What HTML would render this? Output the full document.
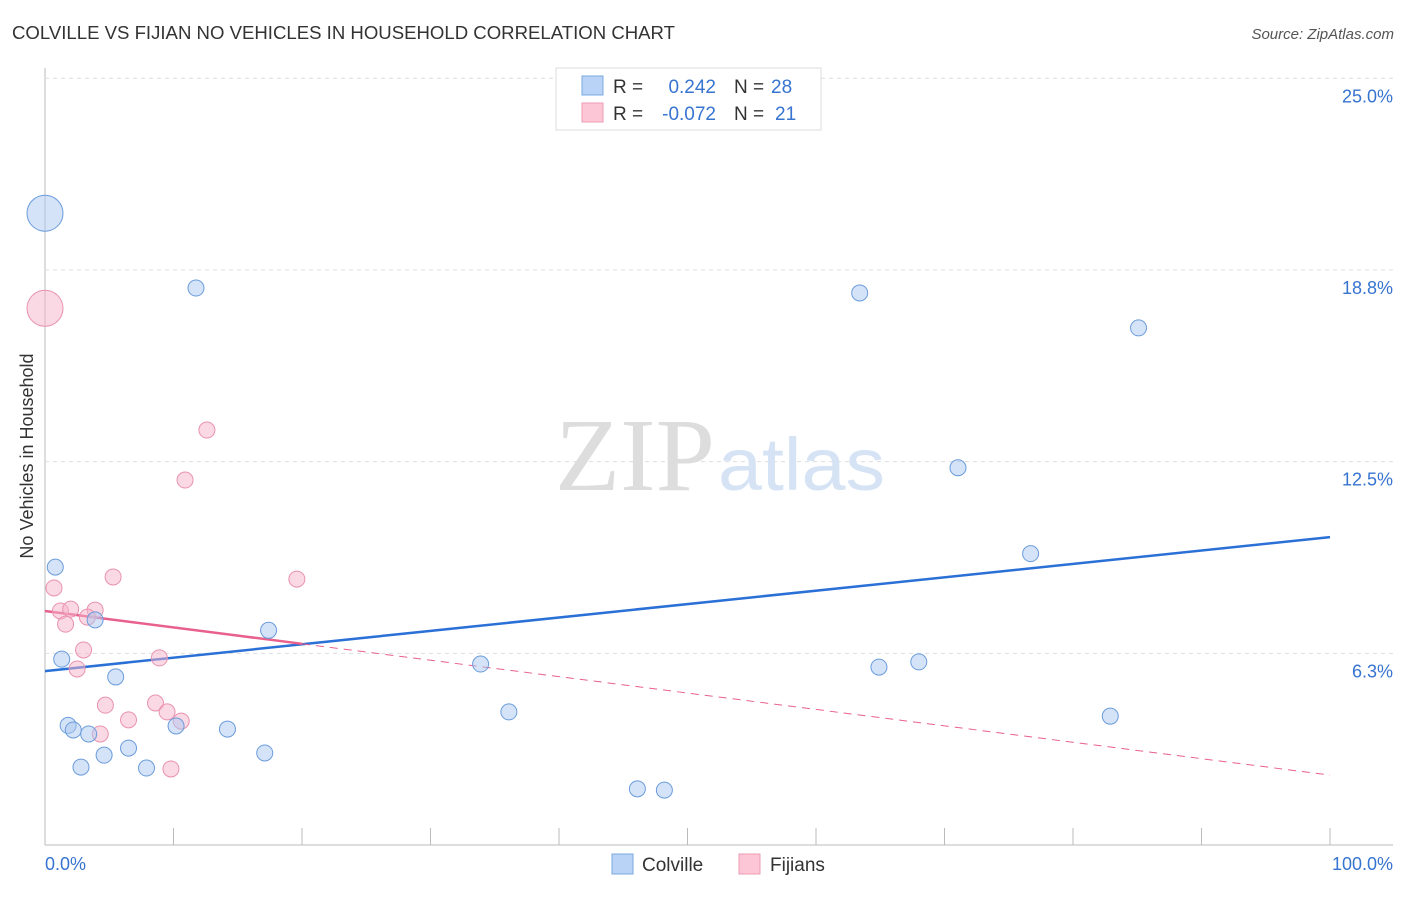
<!DOCTYPE html>
<html><head><meta charset="utf-8"><style>
body{margin:0;background:#fff;font-family:"Liberation Sans",sans-serif;}
svg text{font-family:"Liberation Sans",sans-serif;}
</style></head><body>
<svg id="chart" width="1406" height="892" xmlns="http://www.w3.org/2000/svg">
<text x="12" y="39" font-size="18" fill="#333" textLength="663" lengthAdjust="spacingAndGlyphs">COLVILLE VS FIJIAN NO VEHICLES IN HOUSEHOLD CORRELATION CHART</text>
<text x="1394" y="39" font-size="15" fill="#555" font-style="italic" text-anchor="end">Source: ZipAtlas.com</text>
<text x="33" y="456" font-size="18" fill="#333" text-anchor="middle" transform="rotate(-90 33 456)">No Vehicles in Household</text>
<g id="grid"></g>
<text x="555" y="490" font-size="104" fill="#ddd" textLength="160" lengthAdjust="spacingAndGlyphs" style="font-family:'Liberation Serif',serif">ZIP</text>
<text x="718" y="490" font-size="74" fill="#d5e3f5" textLength="167" lengthAdjust="spacingAndGlyphs">atlas</text>
<g id="lines"></g>
<g id="points"></g>
<g>
<rect x="556" y="68" width="265" height="62" fill="#fff" stroke="#ddd"/>
<rect x="582" y="76" width="21" height="19" fill="#b8d3f5" stroke="#7aa8e0"/>
<rect x="582" y="103" width="21" height="19" fill="#fcc6d6" stroke="#ec9cb4"/>
<text x="613" y="93" font-size="19" fill="#333">R =</text>
<text x="716" y="93" font-size="19" fill="#3674d0" text-anchor="end">0.242</text>
<text x="734" y="93" font-size="19" fill="#333">N =</text>
<text x="771" y="93" font-size="19" fill="#3674d0">28</text>
<text x="613" y="120" font-size="19" fill="#333">R =</text>
<text x="716" y="120" font-size="19" fill="#3674d0" text-anchor="end">-0.072</text>
<text x="734" y="120" font-size="19" fill="#333">N =</text>
<text x="775" y="120" font-size="19" fill="#3674d0">21</text>
</g>
<g>
<rect x="612" y="854" width="21" height="20" fill="#b8d3f5" stroke="#7aa8e0"/>
<text x="642" y="871" font-size="19" fill="#333">Colville</text>
<rect x="739" y="854" width="21" height="20" fill="#fcc6d6" stroke="#ec9cb4"/>
<text x="770" y="871" font-size="19" fill="#333">Fijians</text>
</g>
<text x="45" y="870" font-size="18" fill="#3674d0">0.0%</text>
<text x="1393" y="870" font-size="18" fill="#3674d0" text-anchor="end">100.0%</text>
</svg>
<script>
const yTicks=[25,18.75,12.5,6.25];
const yTickLabels=["25.0%","18.8%","12.5%","6.3%"];
const colvilleX=[0,11.75,63.4,85.1,71.05,76.7,0.8,3.9,17.4,1.3,33.9,64.9,68.0,5.5,36.1,82.9,1.8,2.2,3.4,14.2,10.2,6.5,4.6,17.1,2.8,7.9,46.1,48.2];
const colvilleY=[20.6,18.16,18.0,16.86,12.3,9.5,9.06,7.34,7.0,6.06,5.9,5.8,5.97,5.48,4.34,4.2,3.9,3.75,3.62,3.78,3.88,3.16,2.93,3.0,2.54,2.51,1.83,1.79];
const colvilleBig=[1,0,0,0,0,0,0,0,0,0,0,0,0,0,0,0,0,0,0,0,0,0,0,0,0,0,0,0];
const fijiX=[0,12.6,10.9,5.3,19.6,0.7,1.2,2.0,3.9,3.3,1.6,3.0,8.9,2.5,4.7,8.6,9.5,6.5,10.6,4.3,9.8];
const fijiY=[17.5,13.53,11.9,8.74,8.67,8.38,7.63,7.69,7.66,7.43,7.2,6.36,6.1,5.74,4.56,4.63,4.34,4.08,4.04,3.62,2.48];
const fijiBig=[1,0,0,0,0,0,0,0,0,0,0,0,0,0,0,0,0,0,0,0,0];
const colvilleTrend=[5.67,10.04];
const fijiTrend=[7.63,2.28];
const fijiSolidEnd=20;
const NS="http://www.w3.org/2000/svg";
const X0=45,X1=1330,Y0=845,YK=30.67;
const sx=v=>X0+(X1-X0)*v/100;
const sy=v=>Y0-v*YK;
function mk(tag,attrs,parent){const e=document.createElementNS(NS,tag);for(const k in attrs)e.setAttribute(k,attrs[k]);document.getElementById(parent).appendChild(e);return e;}
let a=mk('line',{x1:45,y1:68,x2:45,y2:845,stroke:'#bbb'},'grid');


a=mk('line',{x1:45,y1:845,x2:1393,y2:845,stroke:'#bbb'},'grid');


for(let i=1;i<=10;i++){const x=sx(i*10);
 const t=mk('line',{x1:x,y1:828,x2:x,y2:845,stroke:'#bbb'},'grid');
 
 }
yTicks.forEach((v,i)=>{const y=sy(v);
 const g=mk('line',{x1:45,y1:y,x2:1393,y2:y,stroke:'#ddd','stroke-dasharray':'4 4'},'grid');
 
 
 const t=mk('text',{x:1393,y:y+24,'font-size':18,fill:'#3674d0','text-anchor':'end'},'grid');
 t.textContent=yTickLabels[i];
 
 });
let l=mk('line',{x1:sx(0),y1:sy(colvilleTrend[0]),x2:sx(100),y2:sy(colvilleTrend[1]),stroke:'#2a70d6','stroke-width':2.5},'lines');


const fAt=x=>fijiTrend[0]+(fijiTrend[1]-fijiTrend[0])*x/100;
l=mk('line',{x1:sx(0),y1:sy(fAt(0)),x2:sx(fijiSolidEnd),y2:sy(fAt(fijiSolidEnd)),stroke:'#e8608c','stroke-width':2.5},'lines');


l=mk('line',{x1:sx(fijiSolidEnd),y1:sy(fAt(fijiSolidEnd)),x2:sx(100),y2:sy(fAt(100)),stroke:'#e8608c','stroke-width':1,'stroke-dasharray':'8 6'},'lines');


fijiX.forEach((x,i)=>{const c=mk('circle',{cx:sx(x),cy:sy(fijiY[i]),r:fijiBig[i]?18:8,fill:'rgba(248,180,202,0.5)',stroke:'#e892ae','stroke-width':1},'points');
 
 });
colvilleX.forEach((x,i)=>{const c=mk('circle',{cx:sx(x),cy:sy(colvilleY[i]),r:colvilleBig[i]?18:8,fill:'rgba(170,200,240,0.5)',stroke:'#6b9cdc','stroke-width':1},'points');
 
 });
</script>
</body></html>
